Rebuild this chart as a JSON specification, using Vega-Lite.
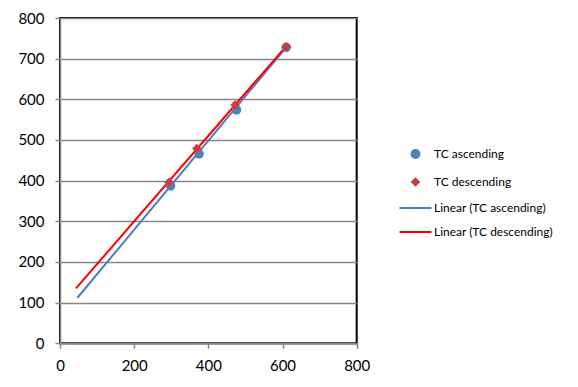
{
  "$schema": "https://vega.github.io/schema/vega-lite/v6.json",
  "width": 296.7,
  "height": 325.3,
  "autosize": {"type": "none"},
  "padding": {"left": 60, "top": 18, "right": 221, "bottom": 43},
  "background": "white",
  "config": {
    "font": "Lato",
    "view": {"stroke": "#000000", "strokeWidth": 2},
    "axis": {
      "labelFont": "Lato",
      "labelFontSize": 15,
      "labelColor": "#000000",
      "domainColor": "#868686",
      "domainWidth": 1.5,
      "tickColor": "#868686",
      "tickWidth": 1.5,
      "tickSize": 5,
      "gridColor": "#868686",
      "gridWidth": 1.5,
      "gridOpacity": 1,
      "title": null
    }
  },
  "data": {
    "values": [
      {"series": "TC ascending", "kind": "point", "x": 298, "y": 387},
      {"series": "TC ascending", "kind": "point", "x": 375, "y": 466},
      {"series": "TC ascending", "kind": "point", "x": 476, "y": 574},
      {"series": "TC ascending", "kind": "point", "x": 610, "y": 728},
      {"series": "TC descending", "kind": "point", "x": 294, "y": 396},
      {"series": "TC descending", "kind": "point", "x": 369, "y": 479},
      {"series": "TC descending", "kind": "point", "x": 472, "y": 586},
      {"series": "TC descending", "kind": "point", "x": 610, "y": 729},
      {"series": "Linear (TC ascending)", "kind": "line", "x": 47, "y": 112},
      {"series": "Linear (TC ascending)", "kind": "line", "x": 610, "y": 728},
      {"series": "Linear (TC descending)", "kind": "line", "x": 43, "y": 135},
      {"series": "Linear (TC descending)", "kind": "line", "x": 610, "y": 731}
    ]
  },
  "encoding": {
    "x": {
      "field": "x", "type": "quantitative",
      "scale": {"domain": [0, 800], "nice": false, "zero": false},
      "axis": {"values": [0, 200, 400, 600, 800], "grid": false, "labelPadding": 10, "labelFlush": false}
    },
    "y": {
      "field": "y", "type": "quantitative",
      "scale": {"domain": [0, 800], "nice": false, "zero": false},
      "axis": {"values": [0, 100, 200, 300, 400, 500, 600, 700, 800], "grid": true, "labelPadding": 11, "labelFlush": false}
    },
    "color": {
      "field": "series", "type": "nominal",
      "scale": {
        "domain": ["TC ascending", "TC descending", "Linear (TC ascending)", "Linear (TC descending)"],
        "range": ["#4F81BD", "#CC3B3B", "#4A7EBB", "#FF0000"]
      },
      "legend": {
        "title": null,
        "orient": "none",
        "legendX": 349.5,
        "legendY": 130,
        "padding": 0,
        "rowPadding": 12,
        "symbolSize": 64,
        "labelFont": "Lato",
        "labelFontSize": 12,
        "labelColor": "#000000",
        "labelOffset": 12.5,
        "encode": {
          "symbols": {
            "update": {
              "shape": {"signal": "datum.value === 'TC ascending' ? 'circle' : datum.value === 'TC descending' ? 'diamond' : 'M-4,0H4'"},
              "fill": {"signal": "datum.value === 'TC ascending' ? '#4F81BD' : datum.value === 'TC descending' ? '#CC3B3B' : 'transparent'"},
              "stroke": {"signal": "datum.value === 'Linear (TC ascending)' ? '#4A7EBB' : datum.value === 'Linear (TC descending)' ? '#FF0000' : 'transparent'"},
              "strokeWidth": {"value": 2},
              "size": {"signal": "datum.value === 'TC descending' ? 45 : 64"},
              "opacity": {"value": 1},
              "fillOpacity": {"value": 1},
              "strokeOpacity": {"value": 1}
            }
          }
        }
      }
    }
  },
  "layer": [
    {
      "transform": [{"filter": "datum.kind === 'line'"}],
      "mark": {"type": "line", "strokeWidth": 2, "clip": false},
      "encoding": {"detail": {"field": "series"}}
    },
    {
      "transform": [{"filter": "datum.kind === 'point'"}],
      "mark": {"type": "point", "filled": true, "opacity": 1, "size": 90},
      "encoding": {
        "shape": {
          "field": "series", "type": "nominal",
          "scale": {"domain": ["TC ascending", "TC descending"], "range": ["circle", "diamond"]},
          "legend": null
        }
      }
    }
  ]
}
